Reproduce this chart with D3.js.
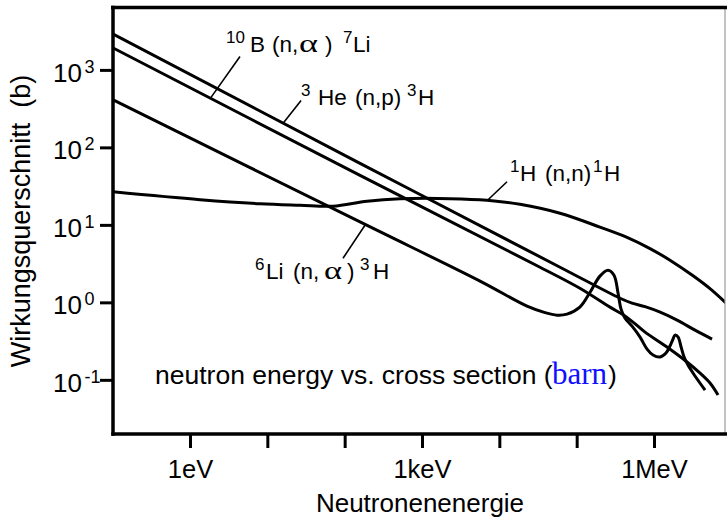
<!DOCTYPE html>
<html>
<head>
<meta charset="utf-8">
<script src="https://cdn.jsdelivr.net/npm/d3@7"></script>
<style>
  html, body { margin: 0; padding: 0; background: #fff; }
  svg { display: block; }
  text { font-family: "Liberation Sans", Arial, sans-serif; fill: #000; }
</style>
</head>
<body>
<svg id="chart" width="727" height="518"></svg>
<script>
// Neutron cross sections: energy in eV, cross section in barn
const he3 = [[0.1, 2920], [158, 62.3], [6.09e4, 2.84], [3.64e5, 1.13], [5.2e5, 0.977],
  [7.66e5, 0.88], [1.2e6, 0.747], [1.99e6, 0.59], [3.39e6, 0.438], [5.63e6, 0.336]];

const b10 = [[0.1, 1930], [158, 43.6], [3.36e4, 2.84], [1.1e5, 1.52], [2.7e5, 0.867],
  [3.86e5, 0.705], [5.35e5, 0.556], [7.66e5, 0.413], [1.47e6, 0.265], [2.67e6, 0.17],
  [3.94e6, 0.122], [5.3e6, 0.0909], [6.73e6, 0.0637]];

const li6 = [[0.1, 413], [158, 10.9], [5630, 1.88], [2.28e4, 0.893], [3.9e4, 0.737],
  [5.57e4, 0.684], [7.5e4, 0.705], [1.1e5, 0.867], [1.49e5, 1.35], [2.0e5, 2.18],
  [2.54e5, 2.6], [3.04e5, 2.24], [3.43e5, 1.31], [3.75e5, 0.817], [4.22e5, 0.626],
  [5.2e5, 0.493], [6.6e5, 0.356], [8.13e5, 0.249], [9.71e5, 0.209], [1.2e6, 0.197],
  [1.43e6, 0.222], [1.61e6, 0.273], [1.76e6, 0.336], [1.87e6, 0.378], [2.05e6, 0.356],
  [2.24e6, 0.265], [2.45e6, 0.197], [2.75e6, 0.155], [3.39e6, 0.112], [4.57e6, 0.0738]];

const h1 = [[0.1, 26.7], [1.35, 21.1], [8.04, 18.7], [26.5, 17.9], [70.7, 17.4],
  [195, 20.2], [520, 21.7], [2300, 21.8], [6930, 20.8], [1.85e4, 18.4], [6.09e4, 14.1],
  [2.0e5, 9.35], [4.48e5, 6.89], [8.88e5, 4.94], [1.61e6, 3.5], [3.2e6, 2.2],
  [5.3e6, 1.5], [8.8e6, 0.95]];

// Axis ticks
const xTickValues = [1, 10, 100, 1e3, 1e4, 1e5, 1e6];
const xTickText = ["1eV", "", "", "1keV", "", "", "1MeV"];
const yTickValues = [0.1, 1, 10, 100, 1000];
const yTickExp = ["-1", "0", "1", "2", "3"];

// Leader lines from labels to curves: [[E, sigma], [E, sigma]]
const leaders = [
  [[4.43, 1491], [1.87, 442]],
  [[27.3, 404], [15.9, 204]],
  [[12570, 36.0], [6930, 20.5]],
  [[95.2, 3.71], [183, 9.9]]
];

const svg = d3.select("#chart");
const plotL = 113, plotR = 725, plotT = 7.5, plotB = 434;

const x = d3.scaleLog().domain([0.101, 8.28e6]).range([plotL, plotR]);
const y = d3.scaleLog().domain([0.02, 6385]).range([plotB, plotT]);

svg.append("rect").attr("width", 727).attr("height", 518).attr("fill", "#fff");

svg.append("defs").append("clipPath").attr("id", "plotClip")
  .append("rect").attr("x", plotL).attr("y", plotT).attr("width", plotR - plotL).attr("height", plotB - plotT);

// Curves
const line = d3.line()
  .x(d => x(d[0]))
  .y(d => y(d[1]))
  .curve(d3.curveCatmullRom.alpha(0.5));

const curves = svg.append("g").attr("clip-path", "url(#plotClip)");
[he3, b10, li6, h1].forEach(series => {
  curves.append("path")
    .attr("d", line(series))
    .attr("fill", "none")
    .attr("stroke", "#000")
    .attr("stroke-width", 3)
    .attr("stroke-linejoin", "round");
});

// Leader lines
leaders.forEach(l => {
  svg.append("line")
    .attr("x1", x(l[0][0])).attr("y1", y(l[0][1]))
    .attr("x2", x(l[1][0])).attr("y2", y(l[1][1]))
    .attr("stroke", "#000").attr("stroke-width", 1.6);
});

// Frame
svg.append("line").attr("x1", plotR).attr("x2", plotR).attr("y1", plotT).attr("y2", plotB)
  .attr("stroke", "#9a9a9a").attr("stroke-width", 1.2);
svg.append("line").attr("x1", plotL - 2).attr("x2", 727).attr("y1", plotT).attr("y2", plotT)
  .attr("stroke", "#000").attr("stroke-width", 3.5);

// X axis
const xAxis = svg.append("g").attr("transform", `translate(0,${plotB})`)
  .call(d3.axisBottom(x).tickValues(xTickValues).tickSize(14).tickSizeOuter(0)
    .tickFormat((d, i) => xTickText[i]));
xAxis.select(".domain").remove();
xAxis.selectAll(".tick line").attr("stroke", "#000").attr("stroke-width", 3);
xAxis.selectAll(".tick text")
  .attr("y", 44).attr("dy", 0)
  .style("font-family", "'Liberation Sans', Arial, sans-serif")
  .style("font-size", "25.5px").attr("fill", "#000");

// Y axis
const yAxis = svg.append("g").attr("transform", `translate(${plotL},0)`)
  .call(d3.axisLeft(y).tickValues(yTickValues).tickSize(13).tickSizeOuter(0).tickFormat(""));
yAxis.select(".domain").remove();
yAxis.selectAll(".tick line").attr("stroke", "#000").attr("stroke-width", 3);
yAxis.selectAll(".tick").each(function (d, i) {
  const g = d3.select(this);
  g.append("text").attr("x", 53 - plotL).attr("y", 11.5)
    .attr("text-anchor", "start").style("font-size", "26px").text("10");
  g.append("text").attr("x", 84.5 - plotL).attr("y", 2.5)
    .attr("text-anchor", "start").style("font-size", "18px").text(yTickExp[i]);
});

svg.append("line").attr("x1", plotL).attr("x2", plotL).attr("y1", plotT - 1.7).attr("y2", plotB + 1.7)
  .attr("stroke", "#000").attr("stroke-width", 3.5);
svg.append("line").attr("x1", plotL - 1.7).attr("x2", 727).attr("y1", plotB).attr("y2", plotB)
  .attr("stroke", "#000").attr("stroke-width", 3.5);

// Curve labels with superscripts
function richLabel(baseline, parts) {
  const t = svg.append("text");
  parts.forEach(([str, px, kind, len]) => {
    const s = t.append("tspan").attr("x", px).text(str);
    if (kind === "sup") s.attr("y", baseline - 9.5).style("font-size", "17px");
    else if (kind === "g") s.attr("y", baseline).style("font-size", "25px")
      .style("font-family", "'Liberation Serif', 'Times New Roman', serif")
      .attr("textLength", len).attr("lengthAdjust", "spacingAndGlyphs");
    else s.attr("y", baseline).style("font-size", "22.5px");
  });
}

richLabel(52, [["10", 226, "sup"], ["B", 250, "n"], ["(n,", 272, "n"], ["\u03b1", 299, "g", 19],
  [")", 325, "n"], ["7", 343, "sup"], ["Li", 353, "n"]]);
richLabel(105, [["3", 301, "sup"], ["He", 318, "n"], ["(n,p)", 355, "n"], ["3", 407, "sup"], ["H", 418, "n"]]);
richLabel(181, [["1", 510, "sup"], ["H", 520, "n"], ["(n,n)", 545, "n"], ["1", 593, "sup"], ["H", 604, "n"]]);
richLabel(279, [["6", 255, "sup"], ["Li", 266, "n"], ["(n,", 293, "n"], ["\u03b1", 324, "g", 18],
  [")", 347, "n"], ["3", 360, "sup"], ["H", 373, "n"]]);

// Caption inside the plot
const cap = svg.append("text").attr("y", 384);
cap.append("tspan").attr("x", 155).style("font-size", "26.5px").text("neutron energy vs. cross section (");
cap.append("tspan").attr("x", 552).style("font-size", "31px")
  .style("font-family", "'Liberation Serif', 'Times New Roman', serif")
  .style("fill", "#1010ff").text("barn");
cap.append("tspan").attr("x", 608).style("font-size", "26.5px").text(")");

// Axis titles
svg.append("text").attr("x", 420).attr("y", 512).attr("text-anchor", "middle")
  .style("font-size", "26px").text("Neutronenenergie");
svg.append("text").attr("transform", "translate(30,221) rotate(-90)").attr("text-anchor", "middle")
  .style("font-size", "27px").text("Wirkungsquerschnitt\u00a0 (b)");
</script>
</body>
</html>
